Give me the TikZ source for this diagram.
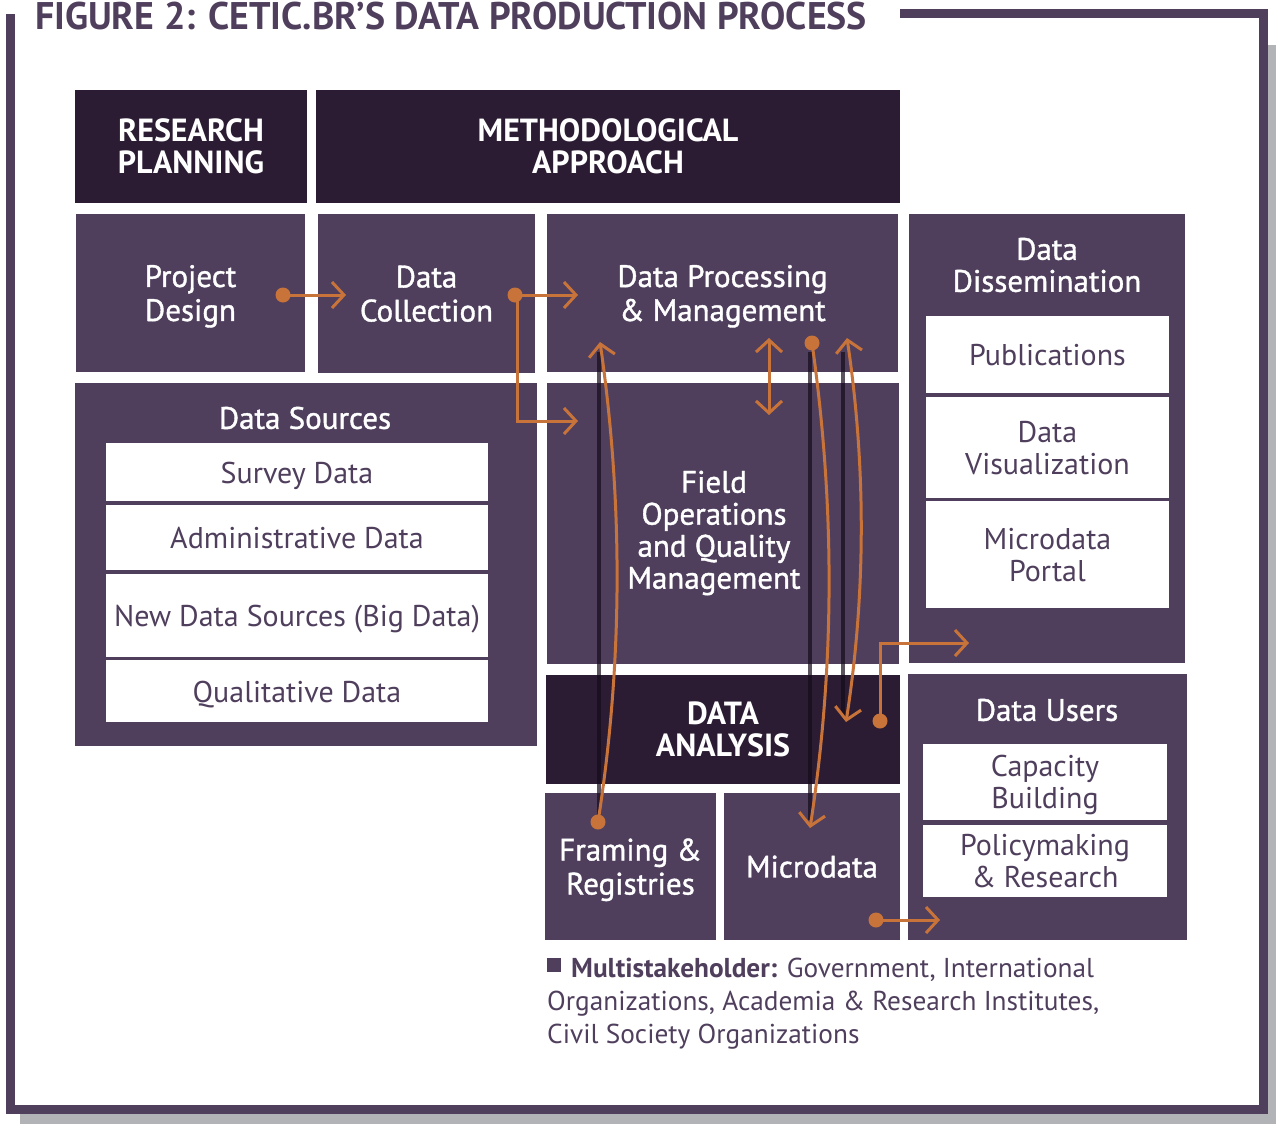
\documentclass[tikz,border=0pt]{standalone}
\usepackage{fontspec}
\usepackage{graphicx}
\setmainfont{PT Sans}
\newfontfamily\semib{PT Sans}[FakeBold=1.2]
\usetikzlibrary{arrows.meta}
\definecolor{purp}{HTML}{4F3F5D}
\definecolor{dark}{HTML}{2B1C34}
\definecolor{orng}{HTML}{C8733A}
\definecolor{shad}{HTML}{B1B3B6}
\definecolor{shline}{HTML}{150C1B}
\newcommand\hdrfont{\fontsize{32}{32}\selectfont\bfseries}
\newcommand\boxfont{\semib\fontsize{31}{34}\selectfont}
\newcommand\lblfont{\semib\fontsize{31}{32}\selectfont}
\newcommand\wfont{\fontsize{30}{32}\selectfont}
\newcommand\legfont{\fontsize{27.3}{33}\selectfont}
\newcommand\bx[7]{\node[#6, anchor=north west, minimum width={(#4-#2)*1pt}, minimum height={(#5-#3)*1pt}] (#1) at (#2,#3) {#7};}
\tikzset{
  hdr/.style={fill=dark, text=white, font=\hdrfont, align=center, inner sep=0pt, outer sep=0pt},
  pbox/.style={fill=purp, text=white, font=\boxfont, align=center, inner sep=0pt, outer sep=0pt, text depth=0pt},
  wbox/.style={fill=white, text=purp, font=\wfont, align=center, inner sep=0pt, outer sep=0pt, text depth=0pt},
  lbl/.style={text=white, font=\lblfont, align=center, inner sep=0pt},
  fieldlbl/.style={text=white, font=\semib\fontsize{31}{32}\selectfont, align=center, inner sep=0pt},
  arr/.style={draw=orng, line width=3pt, -{Straight Barb[length=12pt,width=26pt]}},
  darr/.style={draw=orng, line width=3pt, {Straight Barb[length=12pt,width=26pt]}-{Straight Barb[length=12pt,width=26pt]}},
  dotc/.style={fill=orng},
  shadowline/.style={draw=shline, line width=4.5pt, opacity=0.7},
  legline/.style={anchor=base west, text=purp, font=\legfont, inner sep=0pt}
}
\begin{document}
\begin{tikzpicture}[x=1pt,y=-1pt]
\useasboundingbox (0,0) rectangle (1276,1124);
% shadow and frame
\fill[shad] (20,1114) rectangle (1276,1124);
\fill[shad] (1268,45) rectangle (1276,1124);
\draw[purp, line width=9pt] (10.5,14) -- (10.5,1109.5) -- (1263.5,1109.5) -- (1263.5,14) -- (900,14);
\node[anchor=base west, text=purp, font=\fontsize{38.5}{40}\selectfont\bfseries, inner sep=0pt] (title) at (35,30) {\scalebox{0.983}[1]{FIGURE 2: CETIC.BR’S DATA PRODUCTION PROCESS}};
% header boxes
\bx{rp}{75}{90}{307}{203}{hdr}{RESEARCH\\PLANNING}
\bx{ma}{316}{90}{900}{203}{hdr}{METHODOLOGICAL\\APPROACH}
% row 2
\bx{pd}{76}{214}{305}{372}{pbox}{Project\\Design}
\bx{dc}{318}{214}{535}{373}{pbox}{Data\\Collection}
\bx{dp}{547}{214}{898}{372}{pbox}{Data Processing\\\& Management}
\bx{dd}{909}{214}{1185}{663}{pbox}{}
\node[lbl] (ddl) at (1047,265) {Data\\Dissemination};
\bx{pub}{926}{316}{1169}{393}{wbox}{Publications}
\bx{dv}{926}{397}{1169}{498}{wbox}{Data\\Visualization}
\bx{mp}{926}{501}{1169}{608}{wbox}{Microdata\\Portal}
% data sources
\bx{ds}{75}{383}{537}{746}{pbox}{}
\node[lbl] (dsl) at (305,418) {Data Sources};
\node[wbox, anchor=north west, minimum width=382pt, minimum height=58pt, text depth=0pt] (sd) at (106,443) {\raisebox{-2.5pt}{Survey Data}};
\bx{ad}{106}{505}{488}{570}{wbox}{Administrative Data}
\bx{nd}{106}{574}{488}{657}{wbox}{\raisebox{-1.5pt}{New Data Sources (Big Data)}}
\bx{qd}{106}{660}{488}{722}{wbox}{\raisebox{-2pt}{Qualitative Data}}
% field ops
\bx{fo}{547}{383}{899}{664}{pbox}{}
\node[fieldlbl] (fol) at (714,533) {Field\\Operations\\and Quality\\Management};
% analysis
\bx{da}{546}{675}{900}{784}{hdr}{DATA\\ANALYSIS}
\bx{fr}{545}{793}{716}{940}{pbox}{Framing \&\\Registries}
\bx{md}{724}{793}{900}{940}{pbox}{Microdata}
% users
\bx{du}{908}{674}{1187}{940}{pbox}{}
\node[lbl] (dul) at (1047,710) {Data Users};
\bx{cb}{923}{744}{1167}{820}{wbox}{Capacity\\Building}
\bx{pr}{923}{825}{1167}{897}{wbox}{Policymaking\\\& Research}
% legend
\node[fill=purp, minimum size=14pt, inner sep=0pt, anchor=north west] (lgsq) at (547,958) {};
\node[legline] (lg1) at (571,977) {\textbf{Multistakeholder:} Government, International};
\node[legline] (lg2) at (547,1010) {Organizations, Academia \& Research Institutes,};
\node[legline] (lg3) at (547,1043) {Civil Society Organizations};
% coordinates
\coordinate (pdO) at (283,295); \coordinate (dcI) at (346,295);
\coordinate (dcO) at (515,295); \coordinate (dpI) at (578,295);
\coordinate (dcB) at (517,295); \coordinate (foI) at (578,421);
\coordinate (dpB) at (769,338); \coordinate (foT) at (769,415);
\coordinate (frO) at (598,822); \coordinate (dpL) at (600,342);
\coordinate (dpO) at (812,343); \coordinate (mdI) at (810,828);
\coordinate (dpR) at (847,338); \coordinate (daR) at (846,722);
\coordinate (daO) at (880,721); \coordinate (ddI) at (969,643);
\coordinate (mdO) at (876,920); \coordinate (duI) at (940,920);
\coordinate (s1a) at (599,352); \coordinate (s1b) at (599,818);
\coordinate (s2a) at (810,352); \coordinate (s2b) at (810,820);
\coordinate (s3a) at (843,352); \coordinate (s3b) at (843,716);
% shadow lines
\draw[shadowline] (s1a) -- (s1b);
\draw[shadowline] (s2a) -- (s2b);
\draw[shadowline] (s3a) -- (s3b);
% arrows
\draw[arr] (pdO) -- (dcI);
\draw[arr] (dcO) -- (dpI);
\draw[arr] (dcB) |- (foI);
\draw[darr] (dpB) -- (foT);
\draw[arr] (frO) .. controls (623,662) and (623,502) .. (dpL);
\draw[arr] (dpO) .. controls (835,505) and (835,666) .. (mdI);
\draw[darr] (dpR) .. controls (866,466) and (866,594) .. (daR);
\draw[arr] (daO) |- (ddI);
\draw[arr] (mdO) -- (duI);
% dots
\fill[dotc] (pdO) circle (7.5);
\fill[dotc] (dcO) circle (7.5);
\fill[dotc] (frO) circle (7.5);
\fill[dotc] (dpO) circle (7.5);
\fill[dotc] (daO) circle (7.5);
\fill[dotc] (mdO) circle (7.5);
\end{tikzpicture}
\end{document}
